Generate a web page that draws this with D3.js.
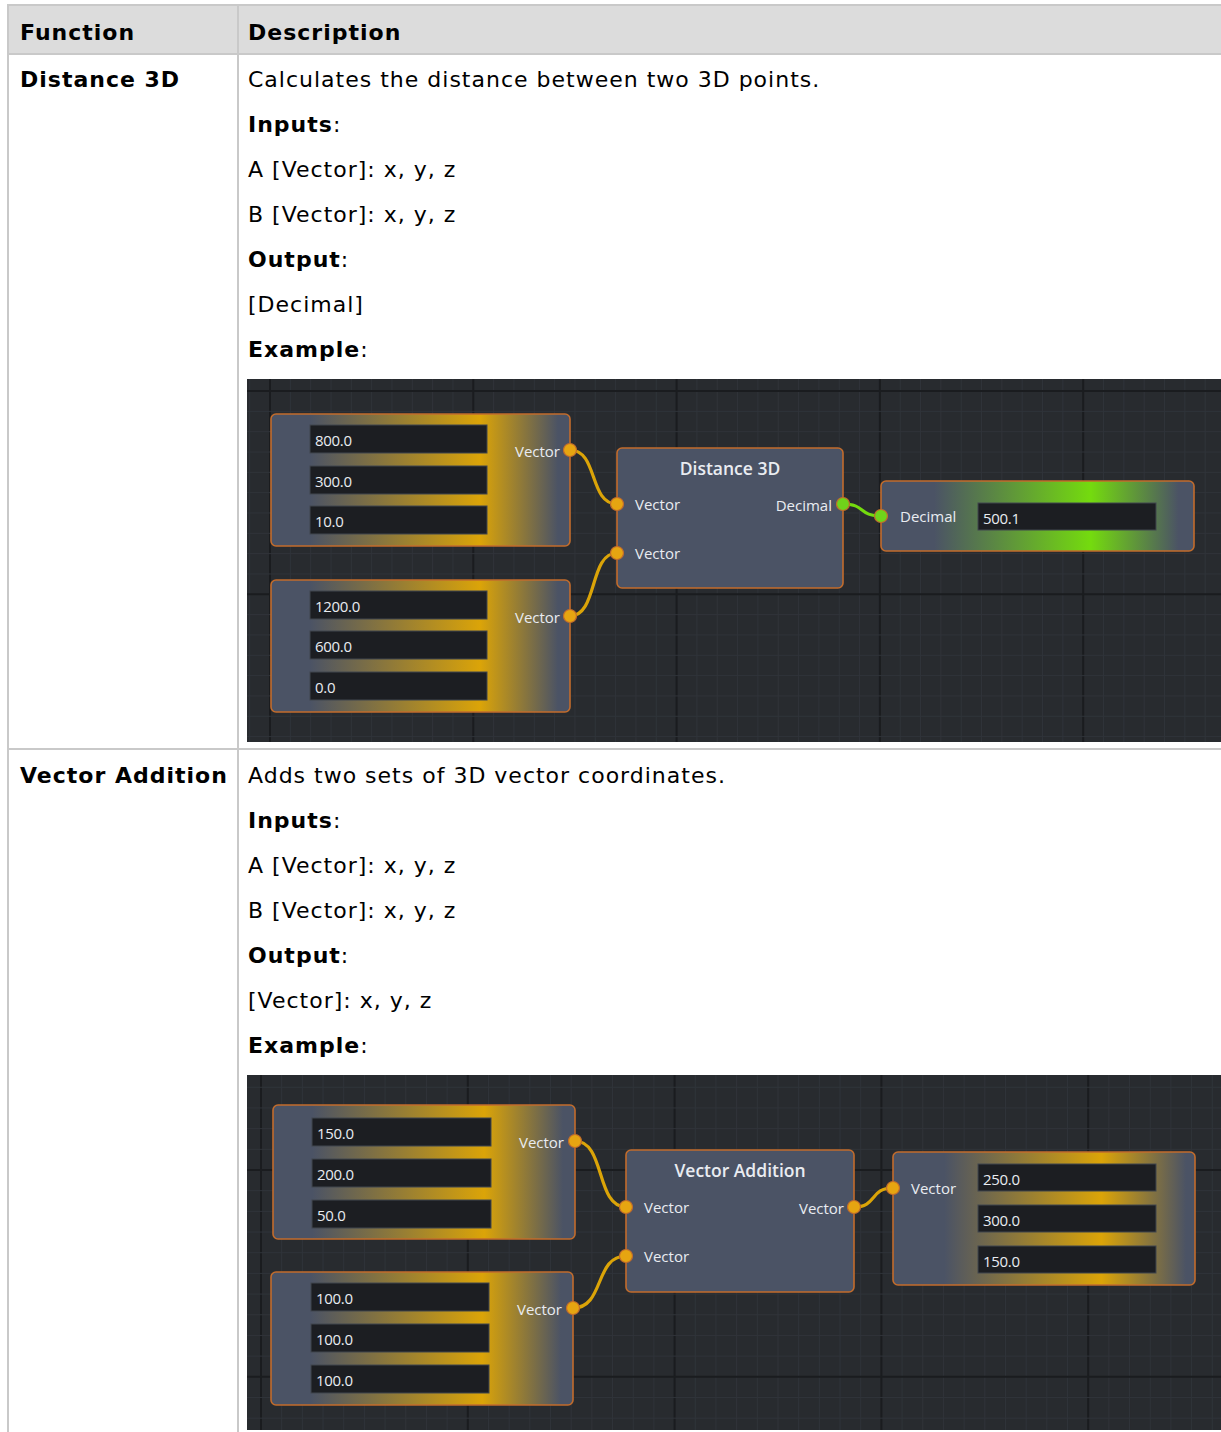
<!DOCTYPE html>
<html><head><meta charset="utf-8">
<script src="https://cdn.jsdelivr.net/npm/d3@7"></script>
<style>
html,body{margin:0;padding:0;background:#fff;}
svg{display:block;}
</style></head>
<body>
<svg id="chart" width="1221" height="1432"></svg>
<script>
// ---------- data ----------
const headers = ["Function", "Description"];
const functionNames = ["Distance 3D", "Vector Addition"];
const descLines1 = [
  ["", "Calculates the distance between two 3D points."],
  ["Inputs", ":"],
  ["", "A [Vector]: x, y, z"],
  ["", "B [Vector]: x, y, z"],
  ["Output", ":"],
  ["", "[Decimal]"],
  ["Example", ":"]
];
const descLines2 = [
  ["", "Adds two sets of 3D vector coordinates."],
  ["Inputs", ":"],
  ["", "A [Vector]: x, y, z"],
  ["", "B [Vector]: x, y, z"],
  ["Output", ":"],
  ["", "[Vector]: x, y, z"],
  ["Example", ":"]
];
const distInputA = ["800.0", "300.0", "10.0"];
const distInputB = ["1200.0", "600.0", "0.0"];
const distOutput = ["500.1"];
const addInputA = ["150.0", "200.0", "50.0"];
const addInputB = ["100.0", "100.0", "100.0"];
const addOutput = ["250.0", "300.0", "150.0"];
const portLabels = ["Vector", "Decimal"];
const nodeTitles = ["Distance 3D", "Vector Addition"];

// ---------- styles ----------
const W = 1221, H = 1432;
const BORDER = "#c9c9c9";
const SLATE = "#4b5365";
const GOLD = "#dba408";
const GREEN = "#74db0e";
const EDGE = "#c26c2c";
const PORT_GOLD = "#e6a511";
const PORT_GREEN = "#6fd41a";
const BG = "#282b2f";
const FIELD = "#1c1e22";
const NODE_TXT = "#e9ecf1";
const NODE_FONT = "'Open Sans', 'Noto Sans', sans-serif";
const DOC_FONT = "'DejaVu Sans', Verdana, sans-serif";

const svg = d3.select("#chart");
const defs = svg.append("defs");

// ---------- table ----------
const colX = 238;
svg.append("rect").attr("x", 8).attr("y", 5).attr("width", W - 8).attr("height", 49).attr("fill", "#dcdcdc");
const hl = [[8, W, 5], [8, W, 54], [8, W, 749]];
hl.forEach(d => svg.append("line").attr("x1", d[0]).attr("x2", d[1]).attr("y1", d[2]).attr("y2", d[2]).attr("stroke", BORDER).attr("stroke-width", 2));
[[8, 4, H], [colX, 4, H]].forEach(d => svg.append("line").attr("x1", d[0]).attr("x2", d[0]).attr("y1", d[1]).attr("y2", d[2]).attr("stroke", BORDER).attr("stroke-width", 2));

const docText = svg.append("g").attr("font-family", DOC_FONT).attr("font-size", 22)
  .attr("letter-spacing", 1).attr("fill", "#000");
docText.selectAll("text.hdr").data(headers).join("text").attr("class", "hdr")
  .attr("x", (d, i) => i === 0 ? 20 : 248).attr("y", 40).attr("font-weight", "bold").text(d => d);
docText.selectAll("text.fn").data(functionNames).join("text").attr("class", "fn")
  .attr("x", 20).attr("y", (d, i) => i === 0 ? 87 : 783).attr("font-weight", "bold").text(d => d);

function drawDesc(lines, y0) {
  const t = docText.append("g").selectAll("text").data(lines).join("text")
    .attr("x", 248).attr("y", (d, i) => y0 + i * 45);
  t.append("tspan").attr("font-weight", "bold").text(d => d[0]);
  t.append("tspan").text(d => d[1]);
}
drawDesc(descLines1, 87);
drawDesc(descLines2, 783);

// ---------- node-graph screenshots ----------
function gradient(id, color, x0, w, stops) {
  const g = defs.append("linearGradient").attr("id", id)
    .attr("gradientUnits", "userSpaceOnUse").attr("x1", x0).attr("x2", x0 + w).attr("y1", 0).attr("y2", 0);
  const cols = [SLATE, SLATE, color, SLATE, SLATE];
  [0, stops[0], stops[1], stops[2], 1].forEach((o, i) => g.append("stop").attr("offset", o).attr("stop-color", cols[i]));
  return "url(#" + id + ")";
}

function drawPanel(id, x, y, w, h, majorX0, majorY0, step) {
  defs.append("clipPath").attr("id", id).append("rect").attr("x", x).attr("y", y).attr("width", w).attr("height", h);
  const g = svg.append("g").attr("clip-path", "url(#" + id + ")");
  g.append("rect").attr("x", x).attr("y", y).attr("width", w).attr("height", h).attr("fill", BG);
  const minor = step / 10;
  const xs = d3.range(-30, 80).map(k => majorX0 + k * minor).filter(v => v >= x && v <= x + w);
  const ys = d3.range(-30, 80).map(k => majorY0 + k * minor).filter(v => v >= y && v <= y + h);
  const isMajor = v => Math.abs(((v - majorX0) / step) - Math.round((v - majorX0) / step)) < 0.01;
  const isMajorY = v => Math.abs(((v - majorY0) / step) - Math.round((v - majorY0) / step)) < 0.01;
  g.selectAll("line.vx").data(xs).join("line").attr("x1", d => d).attr("x2", d => d).attr("y1", y).attr("y2", y + h)
    .attr("stroke", d => isMajor(d) ? "#1a1c1f" : "#30343a").attr("stroke-width", d => isMajor(d) ? 2 : 1);
  g.selectAll("line.hy").data(ys).join("line").attr("y1", d => d).attr("y2", d => d).attr("x1", x).attr("x2", x + w)
    .attr("stroke", d => isMajorY(d) ? "#1a1c1f" : "#30343a").attr("stroke-width", d => isMajorY(d) ? 2 : 1);
  return g;
}

function wire(g, a, b, color) {
  const dx = Math.max(20, (b[0] - a[0]) * 0.6);
  g.append("path").attr("d", `M${a[0]},${a[1]} C${a[0] + dx},${a[1]} ${b[0] - dx},${b[1]} ${b[0]},${b[1]}`)
    .attr("fill", "none").attr("stroke", color).attr("stroke-width", 3.2);
}

function node(g, n) {
  g.append("rect").attr("x", n.x).attr("y", n.y).attr("width", n.w).attr("height", n.h).attr("rx", 5)
    .attr("fill", n.fill).attr("stroke", EDGE).attr("stroke-width", 1.6);
  if (n.title) g.append("text").attr("x", n.x + n.w / 2).attr("y", n.y + 27).attr("text-anchor", "middle")
    .attr("font-family", NODE_FONT).attr("font-size", 17.5).attr("font-weight", 600).attr("fill", NODE_TXT).text(n.title);
  (n.fields || []).forEach(f => {
    g.append("rect").attr("x", f.x).attr("y", f.y).attr("width", f.w).attr("height", f.h)
      .attr("fill", FIELD).attr("stroke", "#41464f").attr("stroke-width", 1);
    g.append("text").attr("x", f.x + 5).attr("y", f.y + f.h / 2 + 7).attr("font-family", NODE_FONT)
      .attr("font-size", 15).attr("letter-spacing", -0.3).attr("fill", NODE_TXT).text(f.text);
  });
  (n.labels || []).forEach(l => {
    g.append("text").attr("x", l.x).attr("y", l.y + 5.5).attr("text-anchor", l.anchor || "start")
      .attr("font-family", NODE_FONT).attr("font-size", 15).attr("fill", NODE_TXT).text(l.text);
  });
}

function port(g, p, color) {
  g.append("circle").attr("cx", p[0]).attr("cy", p[1]).attr("r", 6.5).attr("fill", color).attr("stroke", EDGE).attr("stroke-width", 1.2);
}

function fields3(values, x, w, ys, h) {
  return values.map((v, i) => ({ x: x, y: ys[i], w: w, h: h, text: v }));
}

// ---- Panel 1: Distance 3D ----
const p1 = drawPanel("clip1", 247, 379, W - 247, 363, 270, 391, 203.3);
wire(p1, [570, 450], [617, 504], GOLD);
wire(p1, [570, 616], [617, 553], GOLD);
wire(p1, [843, 504], [881, 516], GREEN);
node(p1, { x: 271, y: 414, w: 299, h: 132, fill: gradient("g1", GOLD, 271, 299, [0.13, 0.70, 0.96]),
  fields: fields3(distInputA, 310, 177, [425, 466, 506], 28),
  labels: [{ x: 560, y: 451, text: portLabels[0], anchor: "end" }] });
node(p1, { x: 271, y: 580, w: 299, h: 132, fill: gradient("g2", GOLD, 271, 299, [0.13, 0.70, 0.96]),
  fields: fields3(distInputB, 310, 177, [591, 631, 672], 28),
  labels: [{ x: 560, y: 617, text: portLabels[0], anchor: "end" }] });
node(p1, { x: 617, y: 448, w: 226, h: 140, fill: SLATE, title: nodeTitles[0],
  labels: [{ x: 635, y: 504, text: portLabels[0] }, { x: 635, y: 553, text: portLabels[0] },
           { x: 832, y: 505, text: portLabels[1], anchor: "end" }] });
node(p1, { x: 881, y: 481, w: 313, h: 70, fill: gradient("g3", GREEN, 881, 313, [0.17, 0.67, 0.95]),
  fields: fields3(distOutput, 978, 178, [503], 27),
  labels: [{ x: 900, y: 516, text: portLabels[1] }] });
port(p1, [570, 450], PORT_GOLD);
port(p1, [570, 616], PORT_GOLD);
port(p1, [617, 504], PORT_GOLD);
port(p1, [617, 553], PORT_GOLD);
port(p1, [843, 504], PORT_GREEN);
port(p1, [881, 516], PORT_GREEN);

// ---- Panel 2: Vector Addition ----
const p2 = drawPanel("clip2", 247, 1075, W - 247, 355, 261, 1170, 206.8);
wire(p2, [575, 1141], [626, 1207], GOLD);
wire(p2, [573, 1308], [626, 1256], GOLD);
wire(p2, [854, 1207], [893, 1188], GOLD);
node(p2, { x: 273, y: 1105, w: 302, h: 134, fill: gradient("g4", GOLD, 273, 302, [0.13, 0.70, 0.96]),
  fields: fields3(addInputA, 312, 179, [1118, 1159, 1200], 28),
  labels: [{ x: 564, y: 1142, text: portLabels[0], anchor: "end" }] });
node(p2, { x: 271, y: 1272, w: 302, h: 133, fill: gradient("g5", GOLD, 271, 302, [0.13, 0.70, 0.96]),
  fields: fields3(addInputB, 311, 178, [1283, 1324, 1365], 28),
  labels: [{ x: 562, y: 1309, text: portLabels[0], anchor: "end" }] });
node(p2, { x: 626, y: 1150, w: 228, h: 142, fill: SLATE, title: nodeTitles[1],
  labels: [{ x: 644, y: 1207, text: portLabels[0] }, { x: 644, y: 1256, text: portLabels[0] },
           { x: 844, y: 1208, text: portLabels[0], anchor: "end" }] });
node(p2, { x: 893, y: 1152, w: 302, h: 133, fill: gradient("g6", GOLD, 893, 302, [0.17, 0.69, 0.97]),
  fields: fields3(addOutput, 978, 178, [1164, 1205, 1246], 27),
  labels: [{ x: 911, y: 1188, text: portLabels[0] }] });
port(p2, [575, 1141], PORT_GOLD);
port(p2, [573, 1308], PORT_GOLD);
port(p2, [626, 1207], PORT_GOLD);
port(p2, [626, 1256], PORT_GOLD);
port(p2, [854, 1207], PORT_GOLD);
port(p2, [893, 1188], PORT_GOLD);
</script>
</body></html>
